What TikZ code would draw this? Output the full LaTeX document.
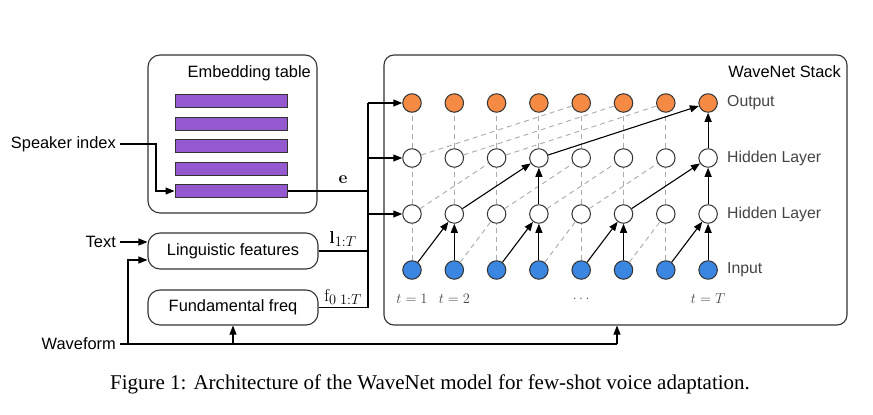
\documentclass[tikz,border=0pt]{standalone}
\usepackage[no-math]{fontspec}
\setsansfont{Liberation Sans}
\newfontfamily\capfont{Liberation Serif}
\usetikzlibrary{arrows.meta,calc}
\definecolor{orng}{HTML}{F58A45}
\definecolor{blu}{HTML}{3A86E0}
\definecolor{purp}{HTML}{9459CF}
\definecolor{edgec}{HTML}{333333}
\definecolor{dgray}{HTML}{AAAAAA}
\definecolor{lblc}{HTML}{444444}
\tikzset{
  box/.style={draw=edgec, line width=1.1pt, rounded corners=12pt, inner sep=0pt},
  neuron/.style={circle, draw=edgec, line width=1pt, minimum size=18.5pt, inner sep=0pt},
  arr/.style={line width=1.1pt, -{Triangle[length=9pt,width=7pt]}},
  ln/.style={line width=1.1pt},
  dsh/.style={draw=dgray, line width=0.9pt, dash pattern=on 5pt off 4pt},
  lbl/.style={font=\sffamily\fontsize{16.4}{18}\selectfont, inner sep=0pt},
  rowlbl/.style={font=\sffamily\fontsize{15.8}{18}\selectfont, inner sep=0pt, text=lblc, anchor=west},
  bar/.style={draw=edgec, fill=purp, line width=1pt, minimum width=112pt, minimum height=13pt, inner sep=0pt},
  mlbl/.style={font=\fontsize{19}{22}\selectfont, inner sep=0pt},
  tlbl/.style={font=\fontsize{14.5}{16}\selectfont, text=lblc, inner sep=0pt}
}
\begin{document}
\begin{tikzpicture}[x=1pt,y=-1pt]
\useasboundingbox (0,0) rectangle (873,415);

% boxes
\node[box, minimum width=169pt, minimum height=158pt] (emb) at (232.5,134) {};
\node[lbl, anchor=east] (embt) at (311,73) {Embedding table};
\node[box, minimum width=170pt, minimum height=36pt, lbl] (ling) at (233,251) {Linguistic features};
\node[box, minimum width=170pt, minimum height=35pt, lbl] (f0) at (233,307.5) {Fundamental freq};
\node[box, rounded corners=10pt, minimum width=463pt, minimum height=270pt] (wn) at (615.5,190) {};
\node[lbl, anchor=east] (wnt) at (841,72) {WaveNet Stack};

% embedding bars
\foreach \k/\yy in {1/101,2/123.5,3/146,4/168.5,5/191}{
  \node[bar] (bar\k) at (231,\yy) {};
}

% input texts
\node[lbl, anchor=east] (spk) at (116,144) {Speaker index};
\node[lbl, anchor=east] (txt) at (116,242) {Text};
\node[lbl, anchor=east] (wav) at (116,344) {Waveform};

% neurons
\foreach \i in {1,...,8}{
  \pgfmathsetmacro\xx{412+42.3*(\i-1)}
  \node[neuron, fill=orng] (o\i) at (\xx,103) {};
  \node[neuron, fill=white] (b\i) at (\xx,158) {};
  \node[neuron, fill=white] (a\i) at (\xx,214) {};
  \node[neuron, fill=blu] (n\i) at (\xx,270) {};
}

% row labels
\node[rowlbl] (lo) at (727,103) {Output};
\node[rowlbl] (lh2) at (727,158) {Hidden Layer};
\node[rowlbl] (lh1) at (727,214) {Hidden Layer};
\node[rowlbl] (lin) at (727,270) {Input};

% time labels
\node[tlbl] (t1) at ($(n1)+(0,29)$) {$t=1$};
\node[tlbl] (t2) at ($(n2)+(0,29)$) {$t=2$};
\node[tlbl] (tdots) at ($(n5)+(0,29)$) {$\ldots$};
\node[tlbl] (tT) at ($(n8)+(0,29)$) {$t=T$};

% dashed connections
\foreach \i in {1,...,7}{ \draw[dsh] (b\i) -- (o\i); }
\foreach \j/\k in {1/5,2/6,3/7}{ \draw[dsh] (b\j) -- (o\k); }
\foreach \i in {1,2,3,5,6,7}{ \draw[dsh] (a\i) -- (b\i); }
\foreach \j/\k in {1/3,3/5,4/6,5/7}{ \draw[dsh] (a\j) -- (b\k); }
\foreach \i in {1,3,5,7}{ \draw[dsh] (n\i) -- (a\i); }
\foreach \j/\k in {2/3,4/5,6/7}{ \draw[dsh] (n\j) -- (a\k); }

% solid connections
\foreach \i in {2,4,6,8}{ \draw[arr] (n\i) -- (a\i); }
\foreach \j/\k in {1/2,3/4,5/6,7/8}{ \draw[arr] (n\j) -- (a\k); }
\draw[arr] (a4) -- (b4);
\draw[arr] (a8) -- (b8);
\draw[arr] (a2) -- (b4);
\draw[arr] (a6) -- (b8);
\draw[arr] (b8) -- (o8);
\draw[arr] (b4) -- (o8);

% left inputs
\coordinate (spkturn) at (156,144);
\draw[arr] ([xshift=4pt]spk.east) -- (spkturn) |- (bar5.west);
\draw[arr] ([xshift=4pt]txt.east) -- (ling.west |- txt.east);
\coordinate (wvend) at (617,344);
\coordinate (wb1) at (128,344);
\coordinate (wb2) at (233,344);
\draw[ln] ([xshift=4pt]wav.east) -- (wvend);
\draw[arr] (wvend) -- (wn.south -| wvend);
\draw[arr] (wb1) |- ($(ling.west)+(0,9)$);
\draw[arr] (wb2) -- (f0.south);

% bus to WaveNet
\coordinate (bustop) at (368,103);
\coordinate (busbot) at (368,307.5);
\draw[ln] (bar5.east) -- (bar5.east -| bustop);
\draw[ln] (ling.east) -- (ling.east -| bustop);
\draw[ln] (f0.east) -- (busbot);
\draw[ln] (bustop) -- (busbot);
\draw[arr] (bustop) -- (o1);
\draw[arr] (bustop |- b1) -- (b1);
\draw[arr] (bustop |- a1) -- (a1);

\node[mlbl] (le) at (343,180) {$\mathbf{e}$};
\node[mlbl] (ll) at (343,239) {$\mathbf{l}_{1:T}$};
\node[mlbl] (lf) at (343,297) {$\mathrm{f}_{0\;1:T}$};

% caption
\node[font=\capfont\fontsize{21}{24}\selectfont, inner sep=0pt] (cap) at (430,384) {Figure 1: Architecture of the WaveNet model for few-shot voice adaptation.};
\end{tikzpicture}
\end{document}
